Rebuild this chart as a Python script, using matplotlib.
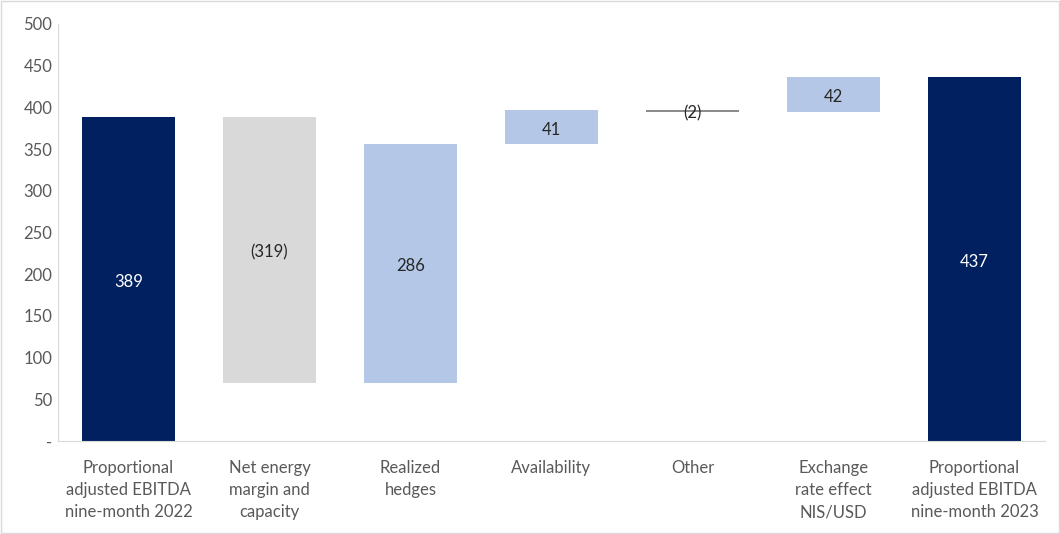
import matplotlib.pyplot as plt
import numpy as np

plt.rcParams['font.family'] = ['Lato', 'DejaVu Sans']

# waterfall data
categories = ["Proportional\nadjusted EBITDA\nnine-month 2022",
              "Net energy\nmargin and\ncapacity",
              "Realized\nhedges",
              "Availability",
              "Other",
              "Exchange\nrate effect\nNIS/USD",
              "Proportional\nadjusted EBITDA\nnine-month 2023"]
changes = [389, -319, 286, 41, -2, 42, 437]
labels = ["389", "(319)", "286", "41", "(2)", "42", "437"]
kind = ["total", "delta", "delta", "delta", "delta", "delta", "total"]

navy = "#002060"
grey = "#D9D9D9"
lightblue = "#B4C7E7"

bottoms = []
heights = []
colors = []
running = 0
for v, k in zip(changes, kind):
    if k == "total":
        bottoms.append(0)
        heights.append(v)
        colors.append(navy)
        running = v
    else:
        new = running + v
        bottoms.append(min(running, new))
        heights.append(abs(v))
        colors.append(lightblue if v > 0 else grey)
        running = new
# tiny negative bar shows up as a thin darker line
colors[4] = "#8C8C8C"

fig = plt.figure(figsize=(10.6, 5.34), dpi=100)
ax = fig.add_axes([58/1060, 1 - 441/534, 987/1060, 417/534])

x = np.arange(len(categories))
ax.bar(x, heights, bottom=bottoms, width=0.66, color=colors)

for i in range(len(x)):
    txtcol = "white" if kind[i] == "total" else "#262626"
    ax.annotate(labels[i], (x[i], bottoms[i] + heights[i] / 2), xytext=(0, -2),
                textcoords="offset points", ha="center", va="center",
                fontsize=12, color=txtcol)

ax.set_xlim(-0.5, len(x) - 0.5)
ax.set_ylim(0, 500)
ax.set_yticks(range(0, 501, 50))
ax.set_yticklabels(["-"] + [str(t) for t in range(50, 501, 50)])
ax.set_xticks(x)
ax.set_xticklabels(categories, linespacing=1.45)
ax.tick_params(axis="both", length=0, labelsize=12, labelcolor="#595959")
ax.tick_params(axis="x", pad=14)
ax.tick_params(axis="y", pad=4)
for s in ["top", "right"]:
    ax.spines[s].set_visible(False)
for s in ["left", "bottom"]:
    ax.spines[s].set_color("#D9D9D9")

# light border round the figure
fig.patches.append(plt.Rectangle((0.001, 0.002), 0.998, 0.996, transform=fig.transFigure,
                                 fill=False, edgecolor="#D9D9D9", linewidth=1))

fig.savefig("out.png", dpi=100)
